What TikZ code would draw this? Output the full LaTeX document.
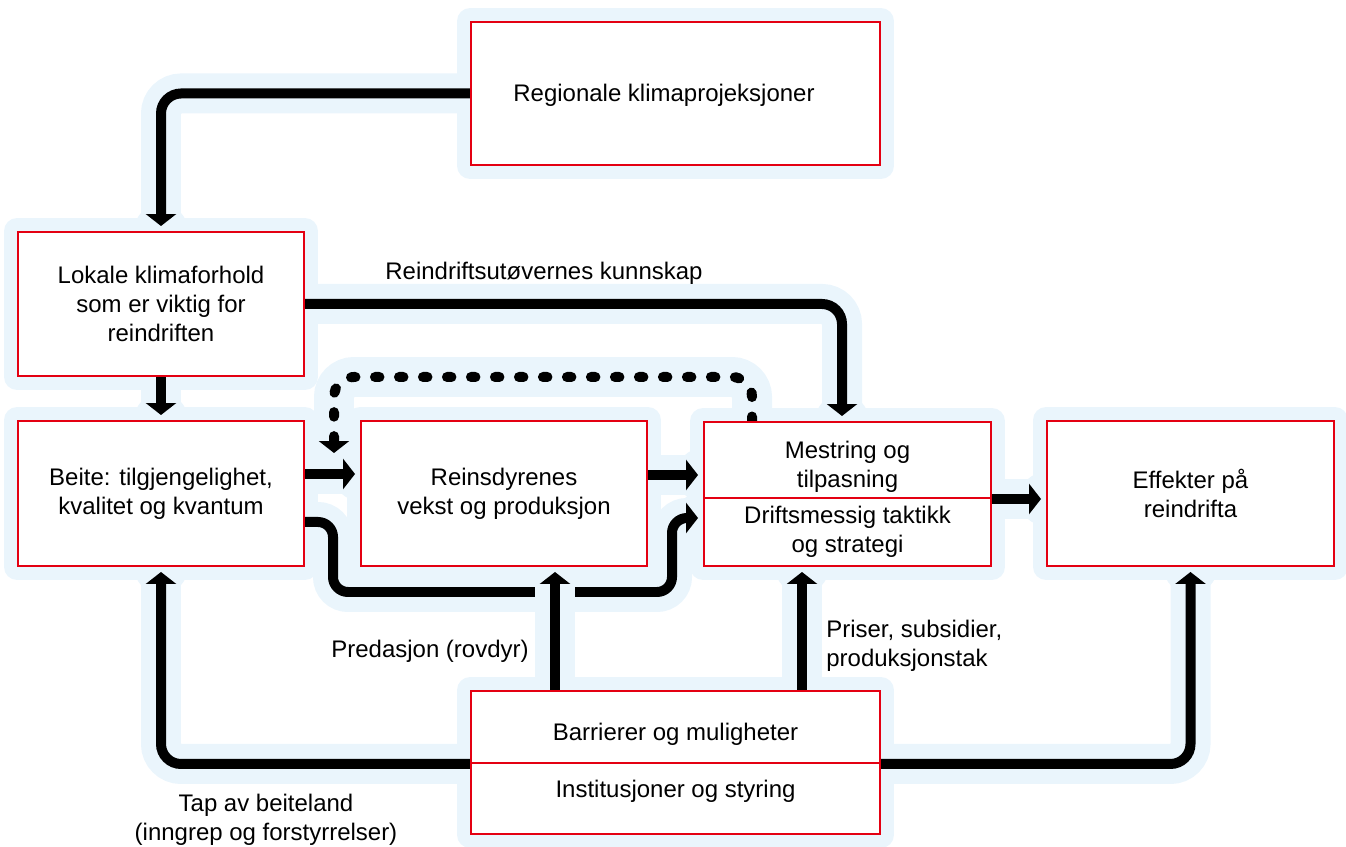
\documentclass[tikz,border=0pt]{standalone}
\usepackage{fontspec}
\setmainfont{Liberation Sans}
\usetikzlibrary{arrows.meta,calc,positioning}
\definecolor{boxred}{RGB}{228,0,18}
\definecolor{halocol}{RGB}{234,245,252}
\pgfdeclarelayer{bg}
\pgfdeclarelayer{fg}
\pgfsetlayers{bg,main,fg}
\tikzset{
  box/.style={draw=boxred, line width=0.04cm, fill=white, inner sep=0pt, align=center, minimum width=5.72cm, minimum height=2.9cm},
  halobox/.style={draw=halocol, fill=halocol, line width=0.52cm, line join=round},
  haloline/.style={draw=halocol, line width=0.8cm, rounded corners=0.4cm},
  flowline/.style={line width=0.2cm, -{Triangle[length=0.24cm,width=0.6cm]}, shorten >=0.1cm, rounded corners=0.4cm},
  dotline/.style={dash pattern=on 0.09cm off 0.39cm, line cap=round},
  lbl/.style={inner sep=0pt, align=center}
}
\newcommand{\flow}[3][]{%
  \begin{pgfonlayer}{bg}
  \draw[haloline] #2 #3; \fill[halocol] #3 circle (0.54cm);
  \end{pgfonlayer}
  \draw[flowline,#1] #2 #3;}

\begin{document}
\begin{tikzpicture}[x=0.02cm, y=-0.02cm, font=\fontsize{13.65pt}{16.5pt}\selectfont]
\useasboundingbox (0,0) rectangle (1346,847);
\begin{pgfonlayer}{fg}
\node[box, minimum width=8.18cm, minimum height=2.86cm, text height=0.42cm, text depth=0.1cm] (reg) at (675.5,93.5) {Regionale klimaprojeksjoner\hspace*{0.46cm}};
\node[box, minimum height=2.88cm] (lok) at (161,304) {Lokale klimaforhold\\som er viktig for\\reindriften};
\node[box] (beite) at (161,493.5) {Beite: tilgjengelighet,\\kvalitet og kvantum};
\node[box] (reins) at (504,493.5) {Reinsdyrenes\\vekst og produksjon};
\node[box, minimum width=5.74cm, minimum height=1.52cm] (mestA) at (847.5,460) {\rule{0pt}{0.6cm}Mestring og\\tilpasning};
\node[box, minimum width=5.74cm, minimum height=1.36cm] (mestB) at (847.5,532) {Driftsmessig taktikk\\og strategi};
\node[box, minimum width=5.74cm] (eff) at (1190.5,493.5) {Effekter på\\reindrifta};
\node[box, minimum width=8.18cm, minimum height=1.44cm, text height=0.63cm, text depth=0.1cm] (barA) at (675.5,727) {Barrierer og muligheter};
\node[box, minimum width=8.18cm, minimum height=1.42cm, text height=0.35cm, text depth=0.4cm] (barB) at (675.5,798.5) {Institusjoner og styring};
\end{pgfonlayer}
\begin{pgfonlayer}{bg}
\foreach \n in {reg,lok,beite,reins,mestA,mestB,eff,barA,barB}
  \filldraw[halobox] (\n.south west) rectangle (\n.north east);
\end{pgfonlayer}

% klima og kunnskap
\flow{(reg.west) -|}{(lok.north)}
\flow{(lok.south) --}{(beite.north)}
\flow{(lok.east) -|}{([xshift=-0.11cm]mestA.north)}
\flow[dotline]{(mestA.north -| 752,0) -- (752,377) -- (334,377) --}{(334,458)}

% beite og produksjon
\flow{(beite.east |- 0,474) --}{(reins.west |- 0,474)}
\flow{(reins.east |- 0,475) --}{(mestA.west |- 0,475)}
\flow{[rounded corners=0.3cm] (beite.east |- 0,522) -- (333,522) -- (333,592) -- (672,592) -- (672,518) --}{(mestB.west |- 0,518)}

% barrierer
\draw[haloline] (barA.north -| 555,0) -- (reins.south -| 555,0);
\flow{(barA.north -| 555,0) --}{(reins.south -| 555,0)}
\flow{(barA.north -| 802,0) --}{(mestB.south -| 802,0)}
\flow{(mestA.south east) --}{(eff.west |- mestA.south east)}
\flow{(barA.south west) -|}{(beite.south)}
\flow{(barA.south east) -|}{(eff.south)}

\node[lbl] (kunn) at (544,273) {Reindriftsutøvernes kunnskap};
\node[lbl] (pred) at (430,651) {Predasjon (rovdyr)};
\node[lbl, anchor=west, align=left] (pris) at (826,646) {Priser, subsidier,\\produksjonstak};
\node[lbl] (tap) at (266,820) {Tap av beiteland\\(inngrep og forstyrrelser)};
\end{tikzpicture}
\end{document}
